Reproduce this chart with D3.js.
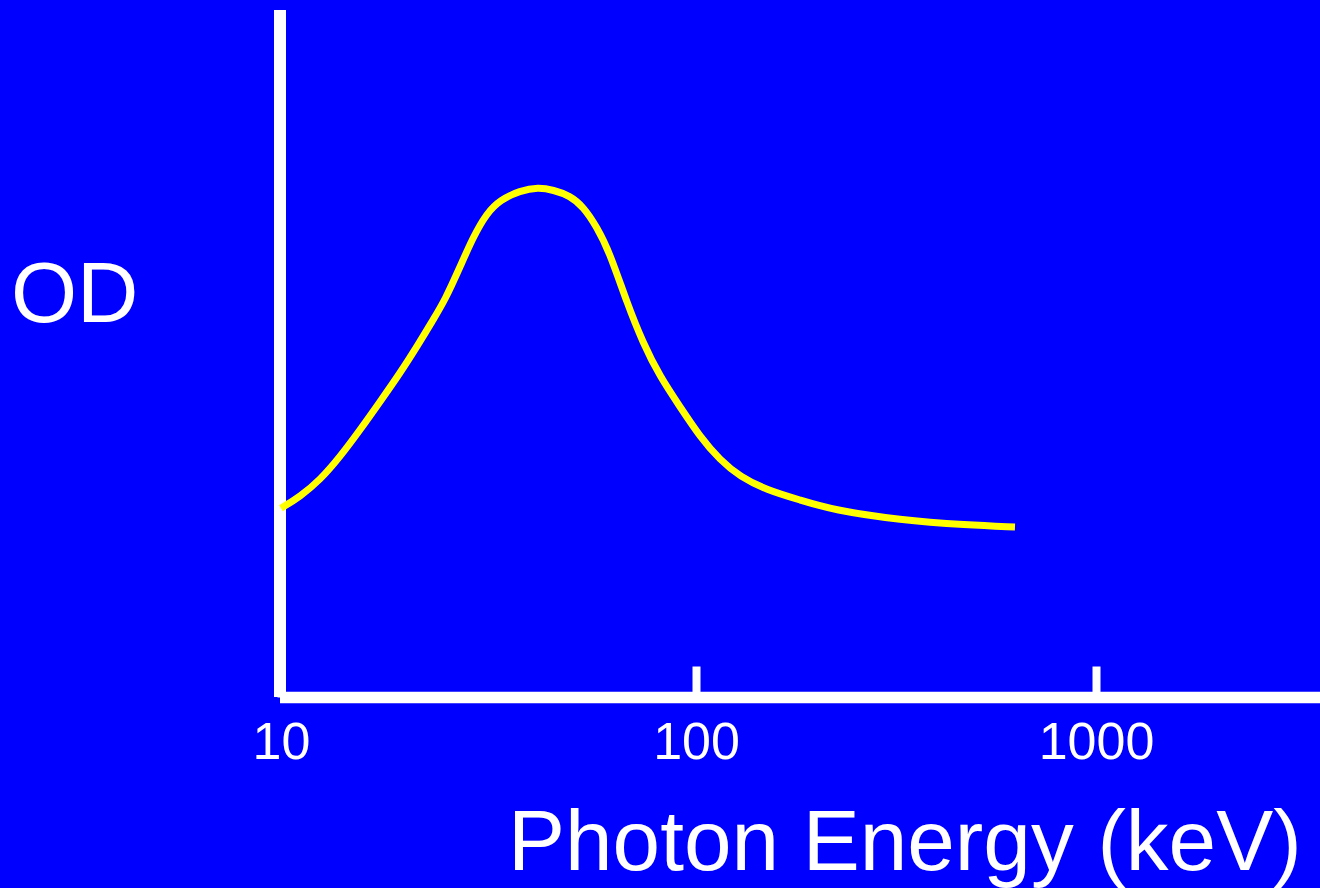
<!DOCTYPE html>
<html>
<head>
<meta charset="utf-8">
<script src="https://cdn.jsdelivr.net/npm/d3@7"></script>
<style>
  html, body { margin: 0; padding: 0; background: #0000FF; }
  svg { display: block; }
</style>
</head>
<body>
<svg id="chart" width="1320" height="888"></svg>
<script>
// ---- data ----
const energyKeV = [10.0, 11.11, 12.42, 13.88, 15.50, 17.32, 19.35, 21.62, 23.24, 24.85, 27.01, 29.07, 31.31, 33.72, 37.67, 41.69, 45.31, 49.71, 53.50, 57.65, 62.06, 68.20, 74.53, 81.89, 91.49, 102.3, 114.8, 128.8, 150.4, 182.0, 220.0, 323.6, 475.9, 627.3];
const odValues  = [0.2747, 0.2916, 0.3159, 0.3498, 0.3886, 0.4298, 0.4712, 0.5172, 0.5488, 0.5779, 0.6263, 0.6700, 0.7041, 0.7234, 0.7370, 0.7419, 0.7380, 0.7297, 0.7137, 0.6846, 0.6458, 0.5735, 0.5153, 0.4662, 0.4226, 0.3789, 0.3450, 0.3207, 0.3013, 0.2868, 0.2722, 0.2576, 0.2504, 0.2475];
const xTickValues = [10, 100, 1000];
const xTickLabels = ["10", "100", "1000"];
const xTitle = "Photon Energy (keV)";
const yTitle = "OD";

const svg = d3.select("#chart");
const W = 1320, H = 888;
svg.append("rect").attr("width", W).attr("height", H).attr("fill", "#0000FF");

const font = "'Liberation Sans', Arial, Helvetica, sans-serif";
const axisY0 = 697.5;

const x = d3.scaleLog().domain([10, 100, 1000]).range([281, 696, 1096]);
const y = d3.scaleLinear().domain([0, 1]).range([697, 10]);

// y axis line
svg.append("line")
  .attr("x1", 280).attr("x2", 280)
  .attr("y1", y(1)).attr("y2", y(0))
  .attr("stroke", "#fff").attr("stroke-width", 12);

// x axis line
svg.append("line")
  .attr("x1", 280).attr("x2", W)
  .attr("y1", axisY0).attr("y2", axisY0)
  .attr("stroke", "#fff").attr("stroke-width", 11.5);

// x axis ticks + labels
const xAxis = d3.axisBottom(x)
  .tickValues(xTickValues)
  .tickFormat((d, i) => xTickLabels[i])
  .tickSizeInner(-31)
  .tickSizeOuter(0);

const gx = svg.append("g").attr("transform", `translate(0,${axisY0})`).call(xAxis);
gx.select(".domain").remove();
gx.selectAll(".tick line").attr("stroke", "#fff").attr("stroke-width", 8);
gx.selectAll(".tick text")
  .attr("fill", "#fff")
  .attr("y", 61).attr("dy", 0)
  .style("font-family", font).style("font-size", "52px");

// curve
const data = energyKeV.map((e, i) => ({ e, v: odValues[i] }));
const line = d3.line()
  .x(d => x(d.e))
  .y(d => y(d.v))
  .curve(d3.curveBasis);

svg.append("path")
  .datum(data)
  .attr("d", line)
  .attr("fill", "none")
  .attr("stroke", "#FFFF00")
  .attr("stroke-width", 7)
  .attr("stroke-linecap", "butt")
  .attr("stroke-linejoin", "round");

// titles
svg.append("text")
  .attr("x", 11).attr("y", 321.5)
  .attr("fill", "#fff")
  .style("font-family", font).style("font-size", "85px")
  .text(yTitle);

svg.append("text")
  .attr("x", 508).attr("y", 870)
  .attr("fill", "#fff")
  .style("font-family", font).style("font-size", "85.5px")
  .text(xTitle);
</script>
</body>
</html>
